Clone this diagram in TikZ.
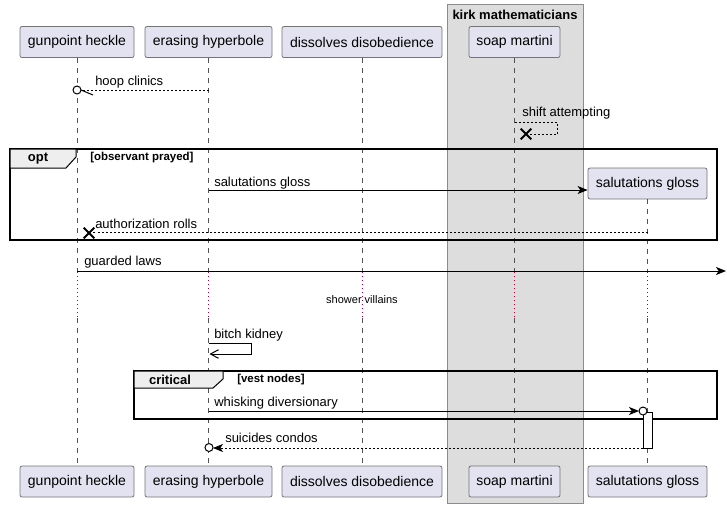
\documentclass[tikz,border=0pt]{standalone}
\usepackage{fontspec}
\setmainfont{Liberation Sans}
\usetikzlibrary{arrows.meta}
\definecolor{partfill}{HTML}{E2E2F0}
\definecolor{partdraw}{HTML}{181818}
\definecolor{grpfill}{HTML}{DDDDDD}
\definecolor{tabfill}{HTML}{EEEEEE}
\definecolor{delayc}{HTML}{A80036}
\begin{document}
\begin{tikzpicture}[x=0.75pt,y=-0.75pt,
  part/.style={draw=partdraw!60, fill=partfill, rounded corners=1.5pt, minimum height=23.25pt,
    inner sep=0pt, font=\fontsize{10.5}{12}\selectfont, line width=0.6pt},
  life/.style={draw=partdraw!75, line width=0.5pt, dash pattern=on 3.75pt off 3.75pt},
  delayline/.style={draw=delayc, line width=0.6pt, dash pattern=on 0.75pt off 2.25pt},
  msg/.style={draw=black, line width=0.75pt},
  reply/.style={draw=black, line width=0.6pt, dash pattern=on 1.5pt off 1.5pt},
  lbl/.style={anchor=base west, inner sep=0pt, font=\fontsize{9.75}{11}\selectfont},
  tipfill/.style={-{Stealth[length=7.5pt,width=6pt,inset=2pt]}},
  tipopen/.style={-{Straight Barb[length=6pt,width=6.5pt]}},
  framebox/.style={draw=black, line width=1.3pt},
  tabbox/.style={draw=black, line width=0.75pt, fill=tabfill},
  tabtxt/.style={font=\bfseries\fontsize{9.75}{11}\selectfont, inner sep=0pt},
  guardtxt/.style={font=\bfseries\fontsize{8.6}{10}\selectfont, inner sep=0pt, anchor=west},
  xmark/.style={draw=black, line width=1.5pt},
  endcirc/.style={draw=black, line width=0.75pt, fill=white}]
\useasboundingbox (0,0) rectangle (727,507);

% group box
\node[draw=black!45, fill=grpfill, line width=0.75pt, minimum width=102pt, minimum height=374.25pt,
  inner sep=0pt] (grp) at (515,253.5) {};
\node[font=\bfseries\fontsize{9.75}{11}\selectfont, inner sep=0pt] (grptitle) at (515,15) {kirk mathematicians};

% participants top
\node[part, minimum width=85.5pt] (ghT) at (77,42) {gunpoint heckle};
\node[part, minimum width=95.25pt] (ehT) at (208.5,42) {erasing hyperbole};
\node[part, minimum width=120pt] (ddT) at (362,42) {dissolves disobedience};
\node[part, minimum width=68.25pt] (smT) at (514.5,42) {soap martini};
\node[part, minimum width=89.25pt] (sgT) at (647.5,183.5) {salutations gloss};
% participants bottom
\node[part, minimum width=85.5pt] (ghB) at (77,481.5) {gunpoint heckle};
\node[part, minimum width=95.25pt] (ehB) at (208.5,481.5) {erasing hyperbole};
\node[part, minimum width=120pt] (ddB) at (362,481.5) {dissolves disobedience};
\node[part, minimum width=68.25pt] (smB) at (514.5,481.5) {soap martini};
\node[part, minimum width=89.25pt] (sgB) at (647.5,481.5) {salutations gloss};

% delay coordinates
\foreach \n/\x in {gh/77, eh/208.5, dd/362, sm/514.5, sg/647.5}{
  \coordinate (\n-d1) at (\x,272);
  \coordinate (\n-d2) at (\x,318);
}
% lifelines
\foreach \n in {gh, eh, dd, sm, sg}{
  \draw[life] (\n T.south) -- (\n-d1);
  \draw[delayline] (\n-d1) -- (\n-d2);
  \draw[life] (\n-d2) -- (\n B.north);
}

% frames
\draw[framebox] (10,149) rectangle (717,240);
\draw[tabbox] (10,149) -- (76,149) -- (76,157) -- (66,168) -- (10,168) -- cycle;
\node[tabtxt] (optlbl) at (38,158.5) {opt};
\node[guardtxt] (optg) at (90,158) {[observant prayed]};

\draw[framebox] (134,371) rectangle (717,419);
\draw[tabbox] (134,371) -- (223,371) -- (223,379) -- (213,388) -- (134,388) -- cycle;
\node[tabtxt] (critlbl) at (170,380) {critical};
\node[guardtxt] (critg) at (237,380) {[vest nodes]};

% 1 hoop clinics
\coordinate (m1a) at (208.5,90);
\coordinate (m1b) at (81,90);
\coordinate (m1c) at (77,90);
\coordinate (m1h) at (93,95);
\draw[reply] (m1a) -- (m1b);
\draw[msg] (m1b) -- (m1h);
\draw[endcirc] (m1c) circle [radius=3pt];
\node[lbl] (l1) at (95,85) {hoop clinics};

% 2 shift attempting
\coordinate (m2a) at (514.5,122);
\coordinate (m2b) at (557,122);
\coordinate (m2c) at (557,134);
\coordinate (m2d) at (530,134);
\coordinate (m2x) at (526,134);
\draw[reply] (m2a) -- (m2b) -- (m2c) -- (m2d);
\draw[xmark] ([xshift=-4pt,yshift=4pt]m2x) -- ([xshift=4pt,yshift=-4pt]m2x)
             ([xshift=-4pt,yshift=-4pt]m2x) -- ([xshift=4pt,yshift=4pt]m2x);
\node[lbl] (l2) at (522,116) {shift attempting};

% 3 salutations gloss (create)
\coordinate (m3a) at (208.5,190);
\draw[msg, tipfill] (m3a) -- (sgT.west |- m3a);
\node[lbl] (l3) at (214,186) {salutations gloss};

% 4 authorization rolls
\coordinate (m4a) at (647.5,232);
\coordinate (m4b) at (93,232);
\coordinate (m4x) at (89,233);
\draw[reply] (m4a) -- (m4b);
\draw[xmark] ([xshift=-4pt,yshift=4pt]m4x) -- ([xshift=4pt,yshift=-4pt]m4x)
             ([xshift=-4pt,yshift=-4pt]m4x) -- ([xshift=4pt,yshift=4pt]m4x);
\node[lbl] (l4) at (95,228) {authorization rolls};

% 5 guarded laws
\coordinate (m5a) at (77,271);
\coordinate (m5b) at (726,271);
\draw[msg, tipfill] (m5a) -- (m5b);
\node[lbl] (l5) at (84,265) {guarded laws};

% delay text
\node[font=\fontsize{8.25}{10}\selectfont, inner sep=0pt] (dly) at (362,300) {shower villains};

% 7 bitch kidney
\coordinate (m7a) at (208.5,343);
\coordinate (m7b) at (251,343);
\coordinate (m7c) at (251,354);
\coordinate (m7d) at (209.5,354);
\draw[msg, tipopen] (m7a) -- (m7b) -- (m7c) -- (m7d);
\node[lbl] (l7) at (214,338) {bitch kidney};

% activation
\node[draw=black, line width=0.75pt, fill=white, minimum width=6.75pt, minimum height=27pt,
  inner sep=0pt] (act) at (647.5,430) {};

% 8 whisking diversionary
\coordinate (m8a) at (208.5,411);
\coordinate (m8b) at (639,411);
\coordinate (m8c) at (643,411);
\draw[msg, tipfill] (m8a) -- (m8b);
\draw[endcirc] (m8c) circle [radius=3pt];
\node[lbl] (l8) at (214,406) {whisking diversionary};

% 9 suicides condos
\coordinate (m9a) at (643.2,448);
\coordinate (m9b) at (213,448);
\coordinate (m9c) at (209,447.5);
\draw[reply, tipfill] (m9a) -- (m9b);
\draw[endcirc] (m9c) circle [radius=3pt];
\node[lbl] (l9) at (225,442) {suicides condos};
\end{tikzpicture}
\end{document}
